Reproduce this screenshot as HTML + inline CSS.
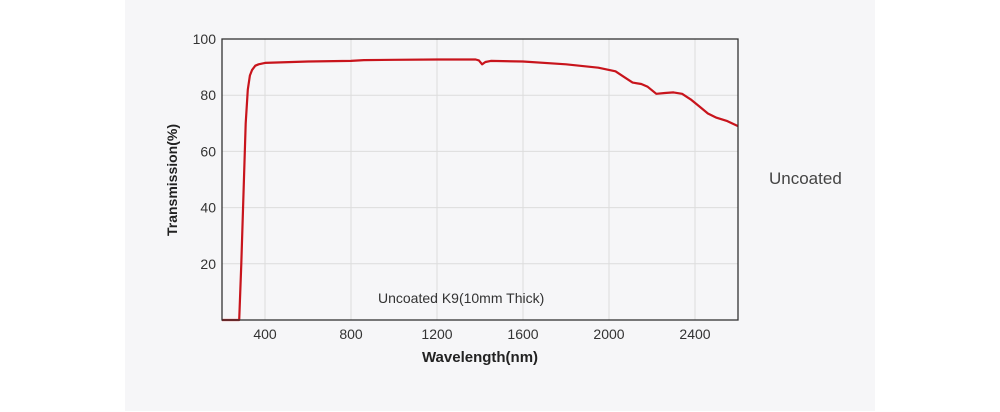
<!DOCTYPE html>
<html><head><meta charset="utf-8"><style>
body{margin:0;background:#fff;font-family:"Liberation Sans",sans-serif;}
#wrap{position:relative;width:1000px;height:412px;overflow:hidden;}
</style></head><body>
<div id="wrap">
<svg id="chart" width="1000" height="412">
<rect x="125" y="0" width="750" height="411" fill="#f6f6f8"/>
<g id="grid"></g>
<g id="ticks"></g>
<path id="curve" fill="none" stroke="#c8141c" stroke-width="2.2" stroke-linejoin="round"/>
<rect x="222" y="39" width="516" height="281" fill="none" stroke="#333" stroke-width="1.3"/>
<text x="378" y="303" font-size="14" fill="#333">Uncoated K9(10mm Thick)</text>
<text x="480" y="362" font-size="15" font-weight="bold" fill="#222" text-anchor="middle">Wavelength(nm)</text>
<text transform="translate(177,180) rotate(-90)" font-size="14" font-weight="bold" fill="#222" text-anchor="middle">Transmission(%)</text>
<text x="769" y="184" font-size="17" fill="#444">Uncoated</text>
</svg>
</div>
<script>
const xTicks=[400,800,1200,1600,2000,2400];
const yTicks=[20,40,60,80,100];
const wavelengths=[200,270,280,290,300,310,320,330,340,355,370,400,600,800,860,1000,1200,1380,1395,1410,1425,1450,1600,1800,1950,2030,2070,2110,2150,2180,2220,2260,2300,2340,2380,2420,2460,2500,2550,2600];
const transmission=[0,0,0,20,45,70,82,87,89,90.5,91,91.5,92,92.2,92.5,92.6,92.7,92.7,92.4,91,91.8,92.2,92,91,89.8,88.5,86.5,84.5,84,83,80.5,80.8,81,80.5,78.5,76,73.5,72,70.8,69];
const X=v=>222+(v-200)*516/2400;
const Y=v=>320-v*2.81;
const ns="http://www.w3.org/2000/svg";
const grid=document.getElementById('grid'),ticks=document.getElementById('ticks');
xTicks.forEach(t=>{
 const l=document.createElementNS(ns,'line');
 
 
 l.setAttribute('x1',X(t));l.setAttribute('x2',X(t));l.setAttribute('y1',39);l.setAttribute('y2',320);
 l.setAttribute('stroke','#dcdcdc');grid.appendChild(l);
 const tx=document.createElementNS(ns,'text');
 
 
 tx.setAttribute('x',X(t));tx.setAttribute('y',339);tx.setAttribute('font-size','14');tx.setAttribute('fill','#333');tx.setAttribute('text-anchor','middle');
 tx.textContent=t;ticks.appendChild(tx);
});
yTicks.forEach(t=>{
 const l=document.createElementNS(ns,'line');
 
 
 l.setAttribute('x1',222);l.setAttribute('x2',738);l.setAttribute('y1',Y(t));l.setAttribute('y2',Y(t));
 l.setAttribute('stroke','#dcdcdc');grid.appendChild(l);
 const tx=document.createElementNS(ns,'text');
 
 
 tx.setAttribute('x',216);tx.setAttribute('y',Y(t)+5);tx.setAttribute('font-size','14');tx.setAttribute('fill','#333');tx.setAttribute('text-anchor','end');
 tx.textContent=t;ticks.appendChild(tx);
});
document.getElementById('curve').setAttribute('d',wavelengths.map((w,i)=>(i?'L':'M')+X(w).toFixed(1)+','+Y(transmission[i]).toFixed(1)).join(''));
</script>
</body></html>
